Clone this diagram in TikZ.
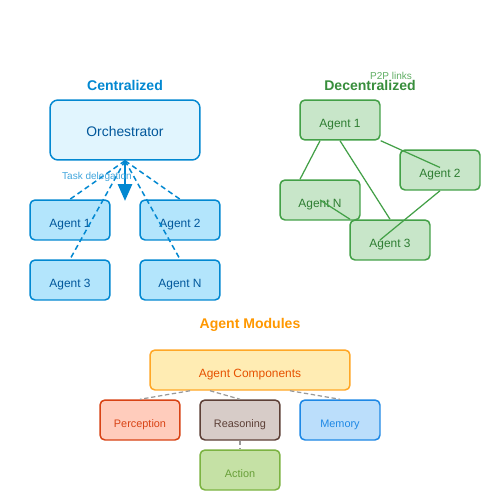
\documentclass[tikz,border=0pt]{standalone}
\usepackage{fontspec}
\setmainfont{Liberation Sans}
\usetikzlibrary{arrows.meta}
\definecolor{cblue}{HTML}{0288D1}
\definecolor{cbluedk}{HTML}{01579B}
\definecolor{cbluefill}{HTML}{E1F5FE}
\definecolor{cagentfill}{HTML}{B3E5FC}
\definecolor{cgreen}{HTML}{388E3C}
\definecolor{cgreenln}{HTML}{43A047}
\definecolor{cgreenfill}{HTML}{C8E6C9}
\definecolor{cgreentx}{HTML}{2E7D32}
\definecolor{corange}{HTML}{FF9800}
\definecolor{cacfill}{HTML}{FFECB3}
\definecolor{cacln}{HTML}{FFA726}
\definecolor{cactx}{HTML}{E65100}
\definecolor{cpfill}{HTML}{FFCCBC}
\definecolor{cpln}{HTML}{D84315}
\definecolor{crfill}{HTML}{D7CCC8}
\definecolor{crln}{HTML}{5D4037}
\definecolor{cmfill}{HTML}{BBDEFB}
\definecolor{cmln}{HTML}{1E88E5}
\definecolor{cafill}{HTML}{C5E1A5}
\definecolor{caln}{HTML}{7CB342}
\definecolor{catx}{HTML}{689F38}
\tikzset{
  x=0.02cm, y=-0.02cm,
  box/.style={draw, rounded corners=0.1cm, line width=0.85pt, minimum width=1.6cm, minimum height=0.8cm, inner sep=0pt, text height=0.9em, text depth=0pt, font=\fontsize{6.8}{8}\selectfont},
  cagent/.style={box, draw=cblue, fill=cagentfill, text=cbluedk},
  dagent/.style={box, draw=cgreenln, fill=cgreenfill, text=cgreentx},
  title/.style={font=\fontsize{8}{9}\bfseries\selectfont},
  tdash/.style={dashed, dash pattern=on 3pt off 2pt, line width=0.85pt, draw=cblue},
  p2p/.style={line width=0.7pt, draw=cgreenln},
  mod/.style={box, font=\fontsize{6.2}{7}\selectfont},
  mdash/.style={dashed, dash pattern=on 2.5pt off 1.5pt, line width=0.7pt, draw=gray!80},
}
\begin{document}
\begin{tikzpicture}
\fill[white] (0,0) rectangle (500,500);
\useasboundingbox (0,0) rectangle (500,500);
% Centralized
\node[title, text=cblue] (ctitle) at (125,85) {Centralized};
\node[box, draw=cblue, fill=cbluefill, text=cbluedk, minimum width=3cm, minimum height=1.2cm, rounded corners=0.16cm, text height=0.8em, text depth=0.1em, font=\fontsize{7.9}{9}\selectfont] (orch) at (125,130) {Orchestrator};
\node[cagent] (ca1) at (70,220) {Agent 1};
\node[cagent] (ca2) at (180,220) {Agent 2};
\node[cagent] (ca3) at (70,280) {Agent 3};
\node[cagent] (caN) at (180,280) {Agent N};
\coordinate (arrend) at (125,201);
\draw[tdash] (orch.south) -- (ca1.north);
\draw[tdash] (orch.south) -- (ca2.north);
\draw[tdash] (orch.south) -- (ca3.north);
\draw[tdash] (orch.south) -- (caN.north);
\draw[cblue, line width=1.7pt, -{Triangle[length=0.34cm,width=0.28cm]}] (orch.south) -- (arrend);
\node[text=cblue!75, font=\fontsize{5.7}{7}\selectfont] (tdl) at (97,177) {Task delegation};
% Decentralized
\node[dagent] (d1) at (340,120) {Agent 1};
\node[dagent] (d2) at (440,170) {Agent 2};
\node[dagent] (dN) at (320,200) {Agent N};
\node[dagent] (d3) at (390,240) {Agent 3};
\draw[p2p] ([xshift=-0.4cm]d1.south) -- ([xshift=-0.4cm]dN.north);
\draw[p2p] (d1.south) -- (d3.north);
\draw[p2p] (d1.south east) -- ([yshift=0.05cm]d2.center);
\draw[p2p] (d2.south) -- ([xshift=-0.2cm]d3.center);
\draw[p2p] (dN.center) -- ([xshift=-0.8cm]d3.north);
\node[title, text=cgreen] (dtitle) at (370,85) {Decentralized};
\node[text=cgreenln!85, font=\fontsize{5.7}{7}\selectfont] (p2pl) at (391,76) {P2P links};
% Modules
\node[title, text=corange] (mtitle) at (250,325) {Agent Modules};
\node[mod, draw=cacln, fill=cacfill, text=cactx, minimum width=4cm, font=\fontsize{6.8}{8}\selectfont] (ac) at (250,370) {Agent Components};
\node[mod, draw=cpln, fill=cpfill, text=cpln] (perc) at (140,420) {Perception};
\node[mod, draw=crln, fill=crfill, text=crln] (reas) at (240,420) {Reasoning};
\node[mod, draw=cmln, fill=cmfill, text=cmln] (mem) at (340,420) {Memory};
\node[mod, draw=caln, fill=cafill, text=catx] (act) at (240,470) {Action};
\draw[mdash] ([xshift=-1.2cm]ac.south) -- (perc.north);
\draw[mdash] ([xshift=-0.8cm]ac.south) -- (reas.north);
\draw[mdash] ([xshift=0.8cm]ac.south) -- (mem.north);
\draw[mdash] (reas.south) -- (act.north);
\end{tikzpicture}
\end{document}
